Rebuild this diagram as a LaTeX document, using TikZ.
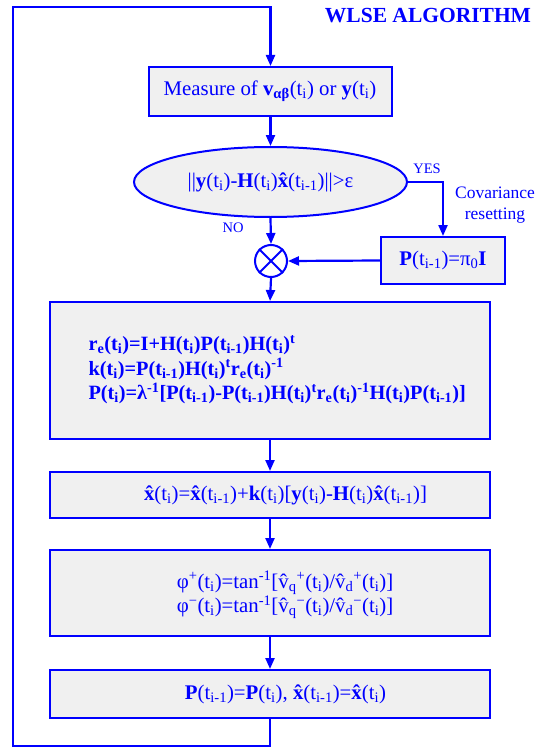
\documentclass[tikz,border=0pt]{standalone}
\usepackage{fontspec}
\setmainfont{Liberation Serif}
\usetikzlibrary{arrows.meta,shapes.geometric}
\definecolor{fc}{RGB}{0,0,255}
\definecolor{boxfill}{RGB}{240,240,240}
\newcommand\ti{t\textsubscript{i}}
\newcommand\tim{t\textsubscript{i-1}}
\newcommand\hatc[1]{{\accent"02C6 #1}}
\newcommand\xh{\textbf{\hatc{x}}}
\tikzset{
  every node/.style={text=fc},
  big/.style={font=\fontsize{20.8}{24.5}\selectfont},
  blk/.style={draw=fc,line width=2pt,fill=boxfill,inner sep=0pt},
  arr/.style={draw=fc,line width=2.2pt,-{Triangle[length=11pt,width=9pt]}},
  ln/.style={draw=fc,line width=2.2pt},
  small/.style={font=\fontsize{14.5}{17}\selectfont},
}
\begin{document}
\begin{tikzpicture}[x=1pt,y=-1pt]
\useasboundingbox (0,0) rectangle (536,749);
% title
\node[font=\fontsize{21.5}{24}\selectfont\bfseries] (title) at (428,16) {WLSE ALGORITHM};
% boxes
\node[blk,minimum width=243pt,minimum height=49pt] (meas) at (270.5,91.5) {};
\node[big] (meast) at (270,91.5) {Measure of \textbf{v}\textsubscript{\textbf{αβ}}(\ti) or \textbf{y}(\ti)};
\node[draw=fc,line width=2pt,fill=boxfill,ellipse,minimum width=273pt,minimum height=70pt,inner sep=0pt] (ell) at (270.5,182) {};
\node[big] (ellt) at (270.5,182) {||\textbf{y}(\ti)-\textbf{H}(\ti)\xh(\tim)||>ε};
\node[draw=fc,line width=2pt,circle,minimum size=32pt,inner sep=0pt] (mix) at (271,261) {};
\draw[ln,line width=2pt] (mix.north east) -- (mix.south west) (mix.north west) -- (mix.south east);
\node[blk,minimum width=124pt,minimum height=47pt] (pbox) at (443,260.5) {};
\node[big] (pboxt) at (443,260.5) {\textbf{P}(\tim)=π\textsubscript{0}\textbf{I}};
\node[blk,minimum width=440pt,minimum height=137pt] (upd) at (270,370.5) {};
\node[anchor=west,align=left,font=\fontsize{20.3}{24.5}\selectfont\bfseries] (updt) at (85,369.5) {r\textsubscript{e}(\ti)=I+H(\ti)P(\tim)H(\ti)\textsuperscript{t}\\
k(\ti)=P(\tim)H(\ti)\textsuperscript{t}r\textsubscript{e}(\ti)\textsuperscript{-1}\\
P(\ti)=λ\textsuperscript{-1}[P(\tim)-P(\tim)H(\ti)\textsuperscript{t}r\textsubscript{e}(\ti)\textsuperscript{-1}H(\ti)P(\tim)]};
\node[blk,minimum width=440pt,minimum height=46pt] (xhb) at (270,495) {};
\node[big] (xhbt) at (285.5,495) {\xh(\ti)=\xh(\tim)+\textbf{k}(\ti)[\textbf{y}(\ti)-\textbf{H}(\ti)\xh(\tim)]};
\node[blk,minimum width=440pt,minimum height=86pt] (phib) at (270,593) {};
\node[big,align=center] (phibt) at (285,595) {φ\textsuperscript{+}(\ti)=tan\textsuperscript{-1}[\hatc{v}\textsubscript{q}\textsuperscript{+}(\ti)/\hatc{v}\textsubscript{d}\textsuperscript{+}(\ti)]\\
φ\textsuperscript{−}(\ti)=tan\textsuperscript{-1}[\hatc{v}\textsubscript{q}\textsuperscript{−}(\ti)/\hatc{v}\textsubscript{d}\textsuperscript{−}(\ti)]};
\node[blk,minimum width=440pt,minimum height=48pt] (last) at (270,694) {};
\node[big] (lastt) at (285.5,694) {\textbf{P}(\tim)=\textbf{P}(\ti), \xh(\tim)=\xh(\ti)};
% labels
\node[small] (yes) at (427,169) {YES};
\node[small] (no) at (233,228) {NO};
\node[font=\fontsize{17.5}{21}\selectfont,align=center] (cov) at (495,205.5) {Covariance\\resetting};
% connectors
\coordinate (lb) at (13,746);
\coordinate (lt) at (13,7);
\draw[arr] (last.south) |- (lb) -- (lt) -| (meas.north);
\draw[arr] (meas.south) -- (ell.north);
\draw[arr] (ell.east) -| (pbox.north);
\draw[arr] (ell.south) -- (mix.north);
\draw[arr] (pbox.west) -- (mix.east);
\draw[arr] (mix.south) -- (upd.north);
\draw[arr] (upd.south) -- (xhb.north);
\draw[arr] (xhb.south) -- (phib.north);
\draw[arr] (phib.south) -- (last.north);
\end{tikzpicture}
\end{document}
